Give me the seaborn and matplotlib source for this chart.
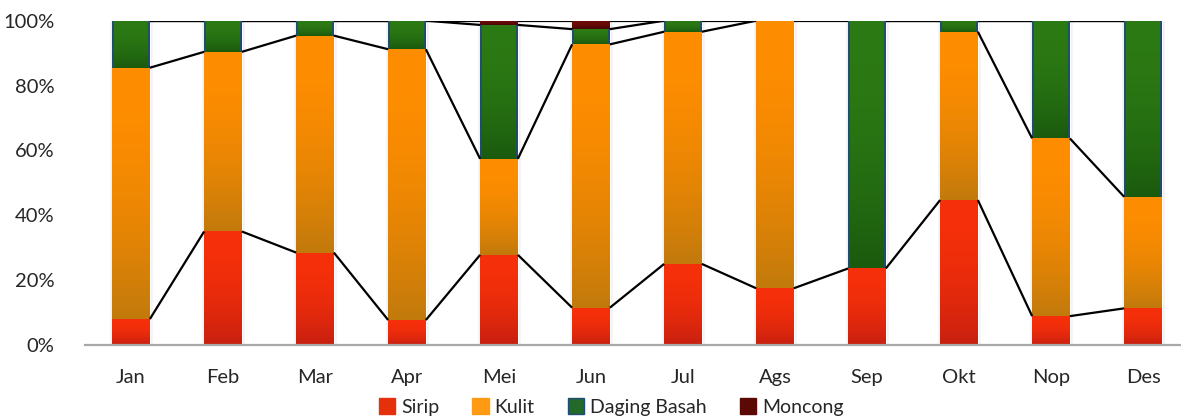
import numpy as np
import matplotlib
matplotlib.use("Agg")
import matplotlib.pyplot as plt
from matplotlib.patches import Patch, Rectangle
from matplotlib.colors import to_rgb
import seaborn as sns

# Monthly composition (percent of total) per product type
months = ["Jan", "Feb", "Mar", "Apr", "Mei", "Jun", "Jul", "Ags", "Sep", "Okt", "Nop", "Des"]
sirip = [8.0, 35.0, 28.5, 7.7, 27.8, 11.5, 25.0, 17.5, 23.6, 44.7, 8.9, 11.3]
kulit = [77.5, 55.4, 66.9, 83.5, 29.6, 81.2, 71.6, 82.5, 0.0, 51.9, 54.8, 34.4]
daging_basah = [14.5, 9.6, 4.6, 8.8, 41.3, 4.7, 3.4, 0.0, 76.4, 3.4, 36.3, 54.3]
moncong = [0.0, 0.0, 0.0, 0.0, 1.3, 2.6, 0.0, 0.0, 0.0, 0.0, 0.0, 0.0]

series_names = ["Sirip", "Kulit", "Daging Basah", "Moncong"]
series_values = [sirip, kulit, daging_basah, moncong]
y_ticks = [0, 20, 40, 60, 80, 100]

# (light top colour, dark bottom colour, legend colour)
shades = {
    "Sirip": ("#F6300A", "#C82010", "#E5300C"),
    "Kulit": ("#FF8D00", "#C27A0C", "#FF9A12"),
    "Daging Basah": ("#2C7A14", "#1A5A0E", "#22692A"),
    "Moncong": ("#6E0B07", "#480504", "#5A0905"),
}

sns.set_theme(style="white")
plt.rcParams["font.family"] = ["Lato", "DejaVu Sans"]

fig = plt.figure(figsize=(11.81, 4.19), dpi=100)
ax = fig.add_axes([85 / 1181, 74 / 419, 1104 / 1181, 324.3 / 419])

vals = np.array(series_values, dtype=float)
cum = np.cumsum(vals, axis=0)
bar_w = 0.41

# stacked bars: draw cumulative totals from the top series down
for k in range(len(series_names) - 1, -1, -1):
    sns.barplot(x=months, y=cum[k], order=months, color=shades[series_names[k]][2],
                width=bar_w, saturation=1, errorbar=None, ax=ax, zorder=1)

ax.set_xlim(-0.5, len(months) - 0.5)
ax.set_ylim(0, 100)

# bar geometry taken from the patches of the bottom layer
bars = ax.patches[-len(months):]
x_left = np.array([p.get_x() for p in bars])
x_right = x_left + np.array([p.get_width() for p in bars])

px_x = 1.0 / 92.0
px_y = 100.0 / 324.3

# soft shadow around each bar
for x0, x1 in zip(x_left, x_right):
    for d, a in [(3, 0.07), (2, 0.09), (1, 0.12)]:
        ax.add_patch(Rectangle((x0 - d * px_x * 0.6, 0), (x1 - x0) + d * px_x * 1.6,
                               100 + d * px_y * 0.3, facecolor="#7a7a7a",
                               edgecolor="none", alpha=a, zorder=0.5))


def gradient(top_hex, bottom_hex, n=64):
    t = np.linspace(0, 1, n) ** 2.0
    c0, c1 = np.array(to_rgb(top_hex)), np.array(to_rgb(bottom_hex))
    return (c0[None, :] * (1 - t[:, None]) + c1[None, :] * t[:, None])[:, None, :]


# vertical gradient fill for every visible segment
for k, name in enumerate(series_names):
    lo_all = cum[k - 1] if k > 0 else np.zeros(len(months))
    for i in range(len(months)):
        if vals[k, i] <= 0:
            continue
        lo, hi = lo_all[i], cum[k, i]
        ax.imshow(gradient(shades[name][0], shades[name][1]), origin="upper",
                  extent=(x_left[i], x_right[i], lo, hi), aspect="auto",
                  interpolation="bilinear", zorder=2)
        if name == "Daging Basah":
            ax.vlines([x_left[i] + 0.4 * px_x, x_right[i] - 0.4 * px_x], lo, hi,
                      colors="#1F4C78", linewidth=1.3, zorder=2.2)

ax.set_xlim(-0.5, len(months) - 0.5)
ax.set_ylim(0, 100)

# series lines joining the segment tops of neighbouring bars
n_series = len(series_names)
for k in range(n_series):
    for i in range(len(months) - 1):
        if k < n_series - 1 and (vals[k, i] <= 0 or vals[k, i + 1] <= 0):
            continue
        ax.plot([x_right[i], x_left[i + 1]], [cum[k, i], cum[k, i + 1]],
                color="black", linewidth=1.6, solid_capstyle="butt", zorder=3)

# axes styling
for side in ["left", "top", "right"]:
    ax.spines[side].set_visible(False)
ax.spines["bottom"].set_color("#A8A8A8")
ax.spines["bottom"].set_linewidth(1.6)
ax.spines["bottom"].set_zorder(4)
ax.set_yticks(y_ticks)
ax.set_yticklabels([f"{v}%" for v in y_ticks])
ax.tick_params(axis="y", length=0, pad=22, labelsize=14.5, labelcolor="#262626")
ax.tick_params(axis="x", length=0, pad=17, labelsize=14.5, labelcolor="#262626")
ax.set_xlabel("")
ax.set_ylabel("")
ax.grid(False)

handles = [Patch(facecolor=shades[n][2],
                 edgecolor="#1F4C78" if n == "Daging Basah" else shades[n][2],
                 linewidth=1.0, label=n) for n in series_names]
fig.legend(handles=handles, loc="center", bbox_to_anchor=(611 / 1181, 12 / 419),
           ncol=4, frameon=False, fontsize=14, handlelength=0.85, handleheight=0.85,
           handletextpad=0.3, columnspacing=1.7, labelcolor="#262626")

fig.savefig("out.png", dpi=100)
